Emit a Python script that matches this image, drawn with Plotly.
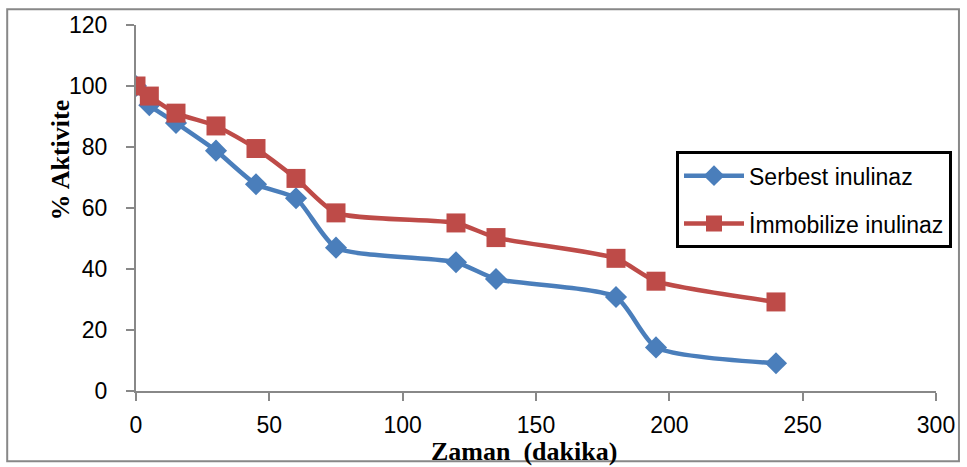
import plotly.graph_objects as go

time_min = [0, 5, 15, 30, 45, 60, 75, 120, 135, 180, 195, 240]
serbest = [100, 93.7, 87.9, 78.8, 67.8, 63.2, 47.0, 42.2, 36.7, 30.8, 14.3, 9.1]
immobilize = [100, 96.7, 91.1, 86.9, 79.5, 69.7, 58.4, 55.1, 50.3, 43.5, 36.0, 29.2]

x_ticks = [0, 50, 100, 150, 200, 250, 300]
y_ticks = [0, 20, 40, 60, 80, 100, 120]

fig = go.Figure()
fig.add_trace(go.Scatter(
    x=time_min, y=serbest, name="Serbest inulinaz", mode="lines+markers",
    line=dict(color="#4a7ebb", width=4.5, shape="spline", smoothing=0.6),
    marker=dict(symbol="diamond", size=17, color="#4a7ebb"),
    legendgroup="a"))
fig.add_trace(go.Scatter(
    x=time_min, y=immobilize, name="İmmobilize inulinaz", mode="lines+markers",
    line=dict(color="#be4b48", width=4.5, shape="spline", smoothing=0.6),
    marker=dict(symbol="square", size=19, color="#be4b48"),
    legendgroup="b"))

axis_common = dict(showgrid=False, zeroline=False, showline=True, linecolor="#888888",
                   linewidth=2, ticks="outside", tickcolor="#888888", ticklen=8, tickwidth=2,
                   tickfont=dict(family="Liberation Sans, Arial", size=23, color="black"))

fig.update_layout(
    width=967, height=467,
    margin=dict(l=136, r=30, t=21, b=76),
    paper_bgcolor="white", plot_bgcolor="white",
    xaxis=dict(range=[0, 300], tickvals=x_ticks, ticklabelstandoff=4, **axis_common),
    yaxis=dict(range=[0, 120], tickvals=y_ticks, ticklabelstandoff=14, **axis_common),
    legend=dict(x=0.675, y=0.655, xanchor="left", yanchor="top",
                bordercolor="black", borderwidth=3, bgcolor="white",
                font=dict(family="Liberation Sans, Arial", size=23, color="black"),
                tracegroupgap=15, itemwidth=60),
    showlegend=True,
    shapes=[dict(type="rect", xref="paper", yref="paper",
                 x0=-0.161, x1=1.0287, y0=-0.192, y1=1.043,
                 line=dict(color="#888888", width=2), layer="below")],
    annotations=[
        dict(text="<b>% Aktivite</b>", xref="paper", yref="paper",
             x=-0.095, y=0.63, textangle=-90, showarrow=False,
             xanchor="center", yanchor="middle",
             font=dict(family="Liberation Serif, Times New Roman", size=26, color="black")),
        dict(text="<b>Zaman  (dakika)</b>", xref="paper", yref="paper",
             x=0.485, y=-0.165, showarrow=False, xanchor="center", yanchor="middle",
             font=dict(family="Liberation Serif, Times New Roman", size=26, color="black")),
    ],
)

fig.write_html("out.html")
